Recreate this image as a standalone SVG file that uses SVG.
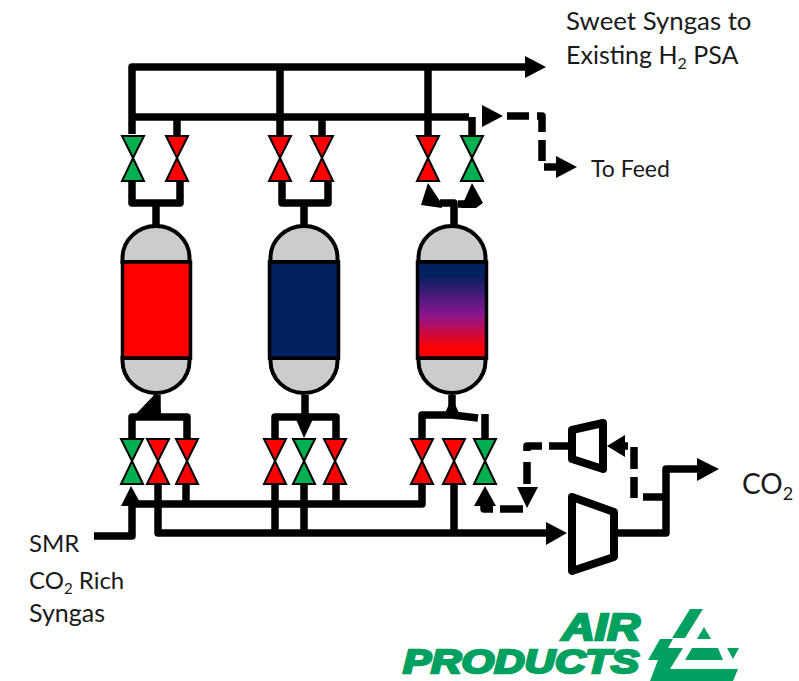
<svg xmlns="http://www.w3.org/2000/svg" width="799" height="681" viewBox="0 0 799 681">
<style>
.p{fill:none;stroke:#000;stroke-width:7.5;stroke-linejoin:round;stroke-linecap:butt}
.h{fill:#000;stroke:none}
.g{fill:#00b050}.r{fill:#f00}
.v use{stroke:#000;stroke-width:2}
.d{fill:#ccc;stroke:#000;stroke-width:4}
.b{stroke:#000;stroke-width:3.5}
.t{font-family:Lato,"Open Sans",sans-serif;fill:#1a1a1a}
.c{fill:#fff;stroke:#000;stroke-width:8;stroke-linejoin:round}
.l{font-family:"Liberation Sans",Arial,sans-serif;font-weight:bold;font-style:italic;fill:#00a160;stroke:#00a160;stroke-width:2.5}
.e{fill:#00a160}
</style>
<defs>
<linearGradient id="mix" x1="0" y1="0" x2="0" y2="1">
<stop offset="0" stop-color="#002060"/><stop offset=".13" stop-color="#002060"/><stop offset=".55" stop-color="#8a1590"/><stop offset=".9" stop-color="#f00"/><stop offset="1" stop-color="#f00"/>
</linearGradient>
<path id="vt" d="M-11 0H11L0 22Z"/>
<path id="vb" d="M0 0L11 23H-11Z"/>
</defs>
<g id="connectors">
<path class="p" d="M132 134V67H526"/><path class="h" d="M525 56L546 67L525 78Z"/>
<path class="p" d="M132 117H469M280 67V136M428 67V136M177 117V136M322 117V136M472 117V136"/>
<path class="p" d="M132 182V203H180V182M156 200V227"/>
<path class="p" d="M282 182V203H328V182M304 200V226"/>
<path class="p" d="M440 203H454V225M458 204H473"/>
<path class="h" d="M428 183L440 201L442 208L421 205ZM472 183L483 203L476 208H461Z"/>
<path class="h" d="M482 105L503 116L482 127Z"/>
<path class="p" d="M507 116H529M537 116H542V132M542 140V161M544 167H556"/>
<path class="h" d="M556 156L577 167L556 178Z"/>
<path class="p" d="M132 439V417H187V439M157 395V417"/>
<path class="h" d="M157 392L162 417H146L135 415Z"/>
<path class="p" d="M275 439V417H336V439M305 395V417"/>
<path class="h" d="M295 417H314L304 438Z"/>
<path class="p" d="M422 439V415H452L478 418M452 395V415M485 414V439"/>
<path class="h" d="M444 415L452 398L460 415Z"/>
<path class="p" d="M94 536H132V505"/><path class="h" d="M131 486L142 506H121Z"/>
<path class="p" d="M132 504H422V484M186 504V484M275 484V533M304 484V533M336 504V484"/>
<path class="p" d="M158 484V533H548M454 484V533"/><path class="h" d="M546 522L567 533L546 545Z"/>
<path class="p" d="M618 533H666V469H698"/><path class="h" d="M697 458L719 469L697 481Z"/>
<path class="p" d="M666 497H643M634 498V477M634 469V447M628 446H623"/><path class="h" d="M625 435L607 446L625 457Z"/>
<path class="p" d="M568 446H549M542 446H527V451M527 462V484M523 509H500M493 509H484V504"/>
<path class="h" d="M517 487H538L527 508ZM485 486L496 506H474Z"/>
</g>
<g id="valves" class="v">
<g id="valve-1"><use href="#vt" x="133" y="136" class="g"/><use href="#vb" x="133" y="158" class="g"/></g>
<g id="valve-2"><use href="#vt" x="177" y="136" class="r"/><use href="#vb" x="177" y="158" class="r"/></g>
<g id="valve-3"><use href="#vt" x="280" y="136" class="r"/><use href="#vb" x="280" y="158" class="r"/></g>
<g id="valve-4"><use href="#vt" x="322" y="136" class="r"/><use href="#vb" x="322" y="158" class="r"/></g>
<g id="valve-5"><use href="#vt" x="428" y="136" class="r"/><use href="#vb" x="428" y="158" class="r"/></g>
<g id="valve-6"><use href="#vt" x="472" y="136" class="g"/><use href="#vb" x="472" y="158" class="g"/></g>
<g id="valve-7"><use href="#vt" x="132" y="439" class="g"/><use href="#vb" x="132" y="461" class="g"/></g>
<g id="valve-8"><use href="#vt" x="158" y="439" class="r"/><use href="#vb" x="158" y="461" class="r"/></g>
<g id="valve-9"><use href="#vt" x="187" y="439" class="r"/><use href="#vb" x="187" y="461" class="r"/></g>
<g id="valve-10"><use href="#vt" x="275" y="439" class="r"/><use href="#vb" x="275" y="461" class="r"/></g>
<g id="valve-11"><use href="#vt" x="304" y="439" class="g"/><use href="#vb" x="304" y="461" class="g"/></g>
<g id="valve-12"><use href="#vt" x="335" y="439" class="r"/><use href="#vb" x="335" y="461" class="r"/></g>
<g id="valve-13"><use href="#vt" x="422" y="439" class="r"/><use href="#vb" x="422" y="461" class="r"/></g>
<g id="valve-14"><use href="#vt" x="454" y="439" class="r"/><use href="#vb" x="454" y="461" class="r"/></g>
<g id="valve-15"><use href="#vt" x="485" y="439" class="g"/><use href="#vb" x="485" y="461" class="g"/></g>
</g>
<g id="vessel-1">
<path class="d" d="M122.500 262V258A33.500 32 0 0 1 189.500 258V262Z"/>
<path class="d" d="M122.500 358V361A33.500 32 0 0 0 189.500 361V358Z"/>
<rect class="b r" x="122.500" y="262" width="68" height="96"/>
</g>
<g id="vessel-2">
<path class="d" d="M270.500 262V258A33.500 32 0 0 1 337.500 258V262Z"/>
<path class="d" d="M270.500 358V361A33.500 32 0 0 0 337.500 361V358Z"/>
<rect class="b" x="269.500" y="262" width="69" height="96" fill="#002060"/>
</g>
<g id="vessel-3">
<path class="d" d="M418.500 262V258A33.500 32 0 0 1 485.500 258V262Z"/>
<path class="d" d="M418.500 358V361A33.500 32 0 0 0 485.500 361V358Z"/>
<rect class="b" x="417.500" y="262" width="69" height="96" fill="url(#mix)"/>
</g>
<g id="compressor-1"><path class="c" d="M572 497L614 512V557L572 571Z"/></g>
<g id="compressor-2"><path class="c" d="M572 430L603 423V469L572 459Z"/></g>
<g id="labels">
<text class="t" x="566" y="30" font-size="25.800">Sweet Syngas to</text>
<text class="t" x="566" y="64" font-size="25">Existing H<tspan font-size="16" dy="5">2</tspan><tspan dy="-5"> PSA</tspan></text>
<text class="t" x="591" y="177" font-size="23">To Feed</text>
<text class="t" x="742" y="494" font-size="28">CO<tspan font-size="18" dy="6">2</tspan></text>
<text class="t" x="29" y="552" font-size="24">SMR</text>
<text class="t" x="29" y="589" font-size="24">CO<tspan font-size="15" dy="5">2</tspan><tspan dy="-5"> Rich</tspan></text>
<text class="t" x="29" y="622" font-size="25">Syngas</text>
</g>
<g id="logo">
<text class="l" x="562" y="640" font-size="37" textLength="78" lengthAdjust="spacingAndGlyphs">AIR</text>
<text class="l" x="403" y="673" font-size="34" textLength="236" lengthAdjust="spacingAndGlyphs">PRODUCTS</text>
<path class="e" d="M690 609H703L685 638H672Z"/>
<path class="e" d="M704 627L711 639H697Z"/>
<path class="e" d="M660 639H673L668 648H683L670 669H738L733 681H650L658 660H648Z"/>
<path class="e" d="M692 648H718L723 660H685Z"/>
<path class="e" d="M727 648H739L733 659Z"/>
</g>
</svg>
